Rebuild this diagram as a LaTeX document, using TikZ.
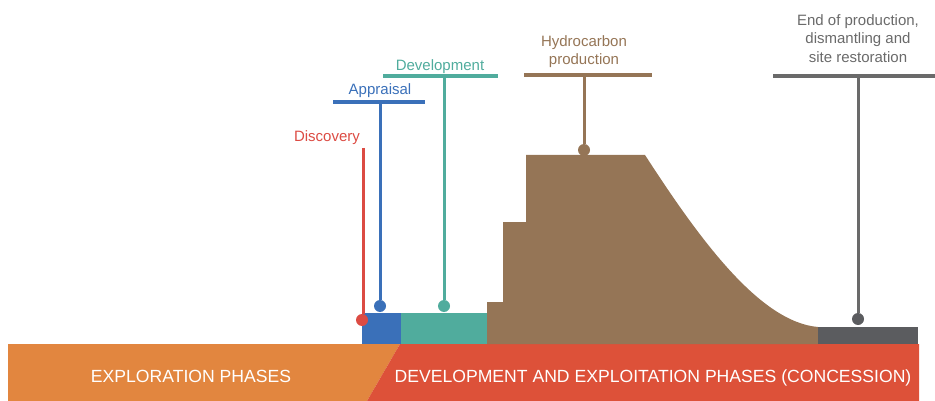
\documentclass[tikz,border=0pt]{standalone}
\usepackage{fontspec}
\setmainfont{Liberation Sans}
\usetikzlibrary{positioning}

\definecolor{explcol}{HTML}{E2863F}
\definecolor{conccol}{HTML}{DD5139}
\definecolor{disccol}{HTML}{DC4B43}
\definecolor{apprcol}{HTML}{3A70B9}
\definecolor{devcol}{HTML}{50AC9D}
\definecolor{prodcol}{HTML}{957556}
\definecolor{endcol}{HTML}{5B5C5F}
\definecolor{endtxt}{HTML}{6A6A6A}

\tikzset{
  phasetext/.style={font=\fontsize{15}{18.5}\selectfont, align=center, inner sep=0pt},
  bandtext/.style={font=\fontsize{17.6}{20}\selectfont, text=white, inner sep=0pt, anchor=base},
  bar/.style={line width=3.5pt},
  stem/.style={line width=3pt},
  dot/.style={circle, fill, inner sep=0pt, minimum size=12pt}
}

\begin{document}
\begin{tikzpicture}[x=1pt, y=-1pt]
\useasboundingbox (0,0) rectangle (935,401);

% bottom band
\fill [explcol] (8,344) -- (400,344) -- (367,401) -- (8,401) -- cycle;
\fill [conccol] (400,344) -- (919,344) -- (919,401) -- (367,401) -- cycle;
\node [bandtext] (expl) at (191,382) {EXPLORATION PHASES};
\node [bandtext] (conc) at (653,382) {DEVELOPMENT AND EXPLOITATION PHASES (CONCESSION)};

% phase blocks
\fill [apprcol] (362,313) rectangle (401,344);
\fill [devcol] (401,313) rectangle (487,344);
\fill [prodcol] (487,344) -- (487,302) -- (503,302) -- (503,222) -- (526,222)
  -- (526,155) -- (645,155) .. controls (700,240) and (760,322) .. (818,327)
  -- (818,344) -- cycle;
\fill [endcol] (818,327) rectangle (918,344);

% discovery
\node [phasetext, text=disccol, anchor=base] (disc) at (327,142) {Discovery};
\coordinate (disctop) at (363,148);
\node [dot, disccol] (discdot) at (362,320) {};
\draw [stem, disccol] (disctop) -- (disctop |- discdot.north);

% appraisal
\node [phasetext, text=apprcol, anchor=base] (appr) at (380,95) {Appraisal};
\coordinate (apprl) at (333,102);
\coordinate (apprr) at (425,102);
\node [dot, apprcol] (apprdot) at (380,306) {};
\draw [bar, apprcol] (apprl) -- (apprr);
\draw [stem, apprcol] (apprdot |- apprl) -- (apprdot);

% development
\node [phasetext, text=devcol, anchor=base] (dev) at (440,71) {Development};
\coordinate (devl) at (383,76);
\coordinate (devr) at (498,76);
\node [dot, devcol] (devdot) at (444,306) {};
\draw [bar, devcol] (devl) -- (devr);
\draw [stem, devcol] (devdot |- devl) -- (devdot);

% production
\node [phasetext, text=prodcol, anchor=north] (prod) at (584,35) {Hydrocarbon\\production};
\coordinate (prodl) at (524,75);
\coordinate (prodr) at (652,75);
\node [dot, prodcol] (proddot) at (584,150) {};
\draw [bar, prodcol] (prodl) -- (prodr);
\draw [stem, prodcol] (proddot |- prodl) -- (proddot);

% end of production
\node [phasetext, text=endtxt, anchor=north] (endp) at (858,14) {End of production,\\dismantling and\\site restoration};
\coordinate (endl) at (773,76);
\coordinate (endr) at (935,76);
\node [dot, endcol] (enddot) at (858,319) {};
\draw [bar, endtxt] (endl) -- (endr);
\draw [stem, endtxt] (enddot |- endl) -- (enddot);
\end{tikzpicture}
\end{document}
